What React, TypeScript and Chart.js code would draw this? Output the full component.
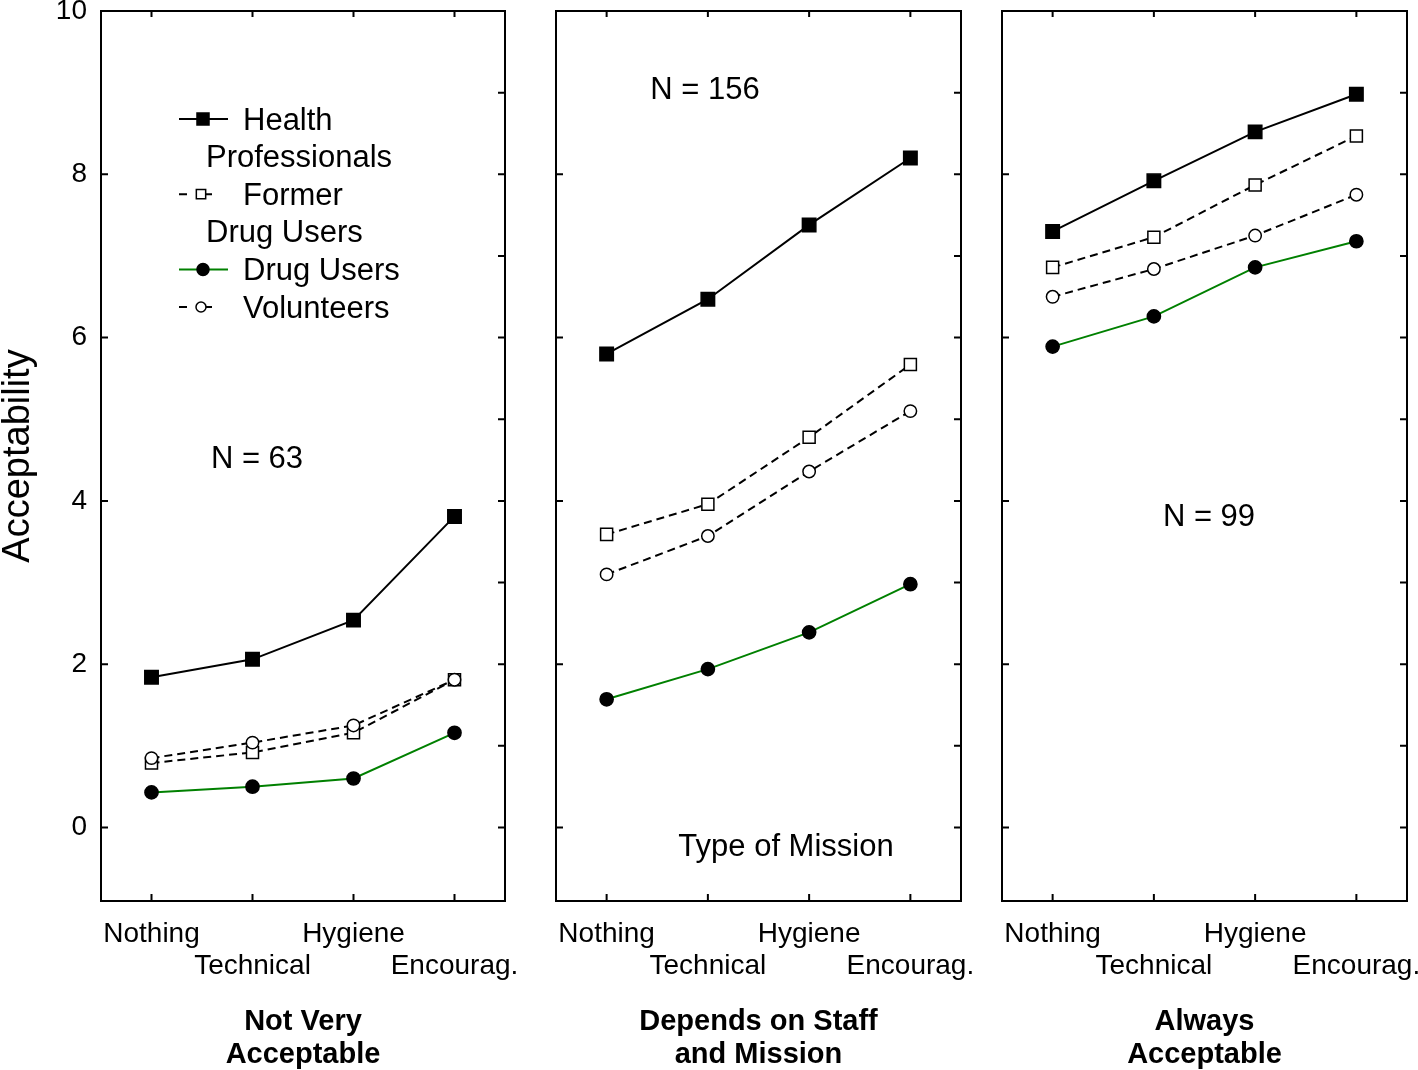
import React, { useEffect, useRef } from 'react';
import { Chart, registerables } from 'chart.js';

Chart.register(...registerables);

// ---------- data ----------
const CATEGORIES = ['Nothing', 'Technical', 'Hygiene', 'Encourag.'];
const PANEL_TITLES = [
  ['Not Very', 'Acceptable'],
  ['Depends on Staff', 'and Mission'],
  ['Always', 'Acceptable'],
];
const SAMPLE_SIZES = ['N = 63', 'N = 156', 'N = 99'];
const Y_TITLE = 'Acceptability';
const X_NOTE = 'Type of Mission';
const Y_TICKS = [0, 2, 4, 6, 8, 10];
const Y_MINOR_TICKS = [0, 1, 2, 3, 4, 5, 6, 7, 8, 9];
const Y_MIN = -0.9;
const Y_MAX = 10;

const SERIES_NAMES = [
  ['Health', 'Professionals'],
  ['Former', 'Drug Users'],
  ['Drug Users'],
  ['Volunteers'],
];

const HEALTH_PROFESSIONALS = [
  [1.84, 2.06, 2.54, 3.81],
  [5.8, 6.47, 7.38, 8.2],
  [7.3, 7.92, 8.52, 8.98],
];
const FORMER_DRUG_USERS = [
  [0.79, 0.92, 1.16, 1.81],
  [3.59, 3.96, 4.78, 5.67],
  [6.86, 7.23, 7.87, 8.47],
];
const DRUG_USERS = [
  [0.43, 0.5, 0.6, 1.16],
  [1.57, 1.94, 2.39, 2.98],
  [5.89, 6.26, 6.86, 7.18],
];
const VOLUNTEERS = [
  [0.85, 1.04, 1.25, 1.81],
  [3.1, 3.57, 4.36, 5.1],
  [6.5, 6.84, 7.25, 7.75],
];

// ---------- layout / style ----------
const W = 1418;
const H = 1070;
const CANVAS_H = 1071;
const PANEL_LEFT = [101, 556, 1002];
const PANEL_RIGHT = [505, 961, 1409];
const PLOT_TOP = 11;
const PLOT_BOTTOM = 901;
const FONT = "'Liberation Sans', Arial, Helvetica, sans-serif";
const GREEN = '#008000';

const SERIES_STYLE = [
  { color: '#000', dash: [] as number[], shape: 'rect', filled: true, r: 9.5, lr: 8.5 },
  { color: '#000', dash: [8, 5], shape: 'rect', filled: false, r: 8.5, lr: 6.6 },
  { color: GREEN, dash: [] as number[], shape: 'circle', filled: true, r: 6.6, lr: 6 },
  { color: '#000', dash: [8, 5], shape: 'circle', filled: false, r: 6.2, lr: 5 },
];
const SERIES_DATA = [HEALTH_PROFESSIONALS, FORMER_DRUG_USERS, DRUG_USERS, VOLUNTEERS];
const SERIES_ORDER = [3, 2, 1, 0];

// annotation placement (pixels, relative to page)
const NOTE_POS = [
  { x: 257, y: 459 },
  { x: 705, y: 90 },
  { x: 1209, y: 517 },
];
const X_NOTE_POS = { x: 786, y: 847 };
const LEGEND_Y0 = 121;
const LEGEND_DY = 37.6;

function drawMarker(ctx: CanvasRenderingContext2D, shape: string, filled: boolean, x: number, y: number, r: number) {
  ctx.save();
  ctx.setLineDash([]);
  ctx.lineWidth = 1.5;
  ctx.strokeStyle = '#000';
  ctx.fillStyle = filled ? '#000' : '#fff';
  ctx.beginPath();
  if (shape === 'rect') {
    const s = Math.SQRT1_2 * r;
    ctx.rect(x - s, y - s, 2 * s, 2 * s);
  } else {
    ctx.arc(x, y, r, 0, Math.PI * 2);
  }
  ctx.fill();
  ctx.stroke();
  ctx.restore();
}

function makeDecorPlugin(panel: number) {
  return {
    id: 'panelDecor' + panel,
    afterDraw(chart: any) {
      const ctx: CanvasRenderingContext2D = chart.ctx;
      const { left, right, top, bottom } = chart.chartArea;
      const xs = chart.scales.x;
      const ys = chart.scales.y;
      ctx.save();
      ctx.strokeStyle = '#000';
      ctx.lineWidth = 2;
      ctx.setLineDash([]);
      ctx.strokeRect(left, top, right - left, bottom - top);
      ctx.beginPath();
      Y_TICKS.forEach((v) => {
        const y = ys.getPixelForValue(v);
        if (y > top + 2 && y < bottom - 2) {
          ctx.moveTo(left, y);
          ctx.lineTo(left + 7, y);
        }
      });
      Y_MINOR_TICKS.forEach((v) => {
        const y = ys.getPixelForValue(v);
        if (y > top + 2 && y < bottom - 2) {
          ctx.moveTo(right, y);
          ctx.lineTo(right - 7, y);
        }
      });
      CATEGORIES.forEach((_, i) => {
        const x = xs.getPixelForValue(i);
        ctx.moveTo(x, top);
        ctx.lineTo(x, top + 6);
        ctx.moveTo(x, bottom);
        ctx.lineTo(x, bottom - 7);
      });
      ctx.stroke();

      ctx.fillStyle = '#000';
      ctx.font = `31px ${FONT}`;
      ctx.textAlign = 'center';
      ctx.textBaseline = 'middle';
      ctx.fillText(SAMPLE_SIZES[panel], NOTE_POS[panel].x, NOTE_POS[panel].y);
      if (panel === 1) {
        ctx.fillText(X_NOTE, X_NOTE_POS.x, X_NOTE_POS.y);
      }

      if (panel === 0) {
        let row = 0;
        ctx.textAlign = 'left';
        SERIES_NAMES.forEach((lines, si) => {
          const st = SERIES_STYLE[si];
          const y = LEGEND_Y0 - 2 + row * LEGEND_DY;
          ctx.save();
          ctx.strokeStyle = st.color;
          ctx.lineWidth = 2;
          ctx.beginPath();
          let mx = 203;
          if (st.dash.length) {
            mx = 201;
            ctx.moveTo(179, y);
            ctx.lineTo(187, y);
            ctx.moveTo(201, y);
            ctx.lineTo(212, y);
          } else {
            ctx.moveTo(179, y);
            ctx.lineTo(228, y);
          }
          ctx.stroke();
          ctx.restore();
          drawMarker(ctx, st.shape, st.filled, mx, y, st.lr);
          lines.forEach((t, li) => {
            ctx.fillText(t, li === 0 ? 243 : 206, LEGEND_Y0 + row * LEGEND_DY);
            row++;
          });
        });
      }
      ctx.restore();
    },
  };
}

function makeConfig(panel: number): any {
  const datasets = SERIES_DATA.map((series, si) => {
    const st = SERIES_STYLE[si];
    return {
      label: SERIES_NAMES[si].join(' '),
      data: series[panel],
      borderColor: st.color,
      borderWidth: 2,
      borderDash: st.dash,
      pointStyle: st.shape,
      pointRadius: st.r,
      pointBackgroundColor: st.filled ? '#000' : '#fff',
      pointBorderColor: '#000',
      pointBorderWidth: 1.5,
      tension: 0,
      fill: false,
      order: SERIES_ORDER[si],
    };
  });
  return {
    type: 'line',
    data: { labels: CATEGORIES, datasets },
    options: {
      responsive: false,
      maintainAspectRatio: false,
      devicePixelRatio: 1,
      animation: false,
      events: [],
      layout: {
        padding: {
          left: panel === 0 ? 0 : PANEL_LEFT[panel],
          right: W - PANEL_RIGHT[panel],
          top: PLOT_TOP,
          bottom: 0,
        },
      },
      plugins: {
        legend: { display: false },
        tooltip: { enabled: false },
        title: { display: false },
      },
      scales: {
        x: {
          type: 'category',
          offset: true,
          grid: { display: false, drawTicks: false },
          border: { display: false },
          ticks: {
            autoSkip: false,
            maxRotation: 0,
            minRotation: 0,
            padding: 17,
            color: '#000',
            font: { family: FONT, size: 28, lineHeight: 32 / 28 },
            callback: (_v: any, idx: number) => (idx % 2 === 1 ? ['', CATEGORIES[idx]] : CATEGORIES[idx]),
          },
          title: {
            display: true,
            text: PANEL_TITLES[panel],
            color: '#000',
            font: { family: FONT, size: 29, weight: 'bold', lineHeight: 33 / 29 },
            padding: { top: 0, bottom: 0 },
          },
          afterFit: (s: any) => {
            s.height = CANVAS_H - PLOT_BOTTOM;
            s.paddingLeft = 0;
            s.paddingRight = 0;
          },
        },
        y: {
          type: 'linear',
          display: panel === 0,
          position: 'left',
          min: Y_MIN,
          max: Y_MAX,
          grid: { display: false, drawTicks: false },
          border: { display: false },
          afterBuildTicks: (s: any) => {
            s.ticks = Y_TICKS.map((v) => ({ value: v }));
          },
          ticks: {
            padding: 14,
            color: '#000',
            font: { family: FONT, size: 28 },
          },
          title: {
            display: true,
            text: Y_TITLE,
            color: '#000',
            font: { family: FONT, size: 38, lineHeight: 1 },
            padding: 0,
          },
          afterFit: (s: any) => {
            s.width = panel === 0 ? PANEL_LEFT[0] : 0;
            s.paddingTop = 0;
            s.paddingBottom = 0;
          },
        },
      },
    },
    plugins: [makeDecorPlugin(panel)],
  };
}

function Panel({ index }: { index: number }) {
  const ref = useRef<HTMLCanvasElement | null>(null);
  useEffect(() => {
    if (!ref.current) return;
    const chart = new Chart(ref.current, makeConfig(index));
    return () => chart.destroy();
  }, [index]);
  return (
    <canvas
      ref={ref}
      width={W}
      height={CANVAS_H}
      style={{ position: 'absolute', left: 0, top: 0, width: W, height: CANVAS_H }}
    />
  );
}

export default function App() {
  return (
    <div style={{ position: 'absolute', left: 0, top: 0, width: W, height: H, background: '#fff', overflow: 'hidden' }}>
      {[0, 1, 2].map((i) => (
        <Panel key={i} index={i} />
      ))}
    </div>
  );
}
